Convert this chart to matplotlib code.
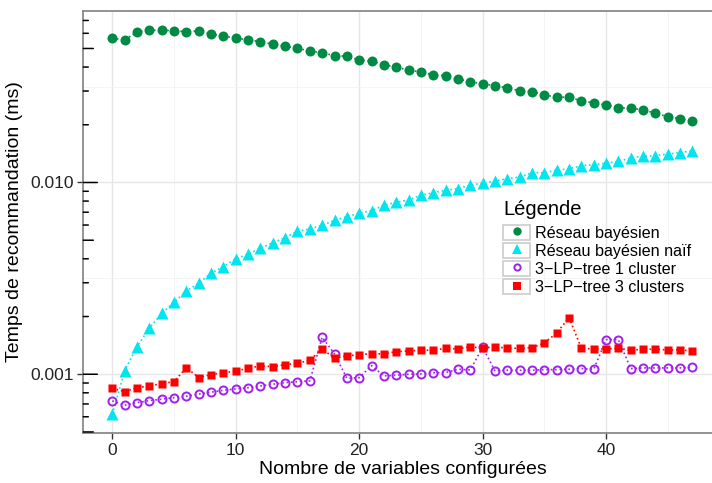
import numpy as np
import matplotlib
matplotlib.use("Agg")
import matplotlib.pyplot as plt
from matplotlib.lines import Line2D
from matplotlib.patches import Rectangle
from matplotlib.legend_handler import HandlerTuple

plt.rcParams['font.family'] = ['Liberation Sans', 'DejaVu Sans']

# nombre de variables configurees (0..47)
n_vars = list(range(48))

reseau_bayesien = [
    0.0565, 0.0554, 0.0610, 0.0622, 0.0622, 0.0619, 0.0612, 0.0617, 0.0595, 0.0579,
    0.0567, 0.0554, 0.0543, 0.0526, 0.0514, 0.0501, 0.0485, 0.0474, 0.0459, 0.0455,
    0.0436, 0.0429, 0.0412, 0.0399, 0.0386, 0.0376, 0.0365, 0.0360, 0.0346, 0.0336,
    0.0327, 0.0320, 0.0311, 0.0301, 0.0298, 0.0286, 0.0279, 0.0278, 0.0267, 0.0260,
    0.0254, 0.0246, 0.0244, 0.0239, 0.0230, 0.0220, 0.0215, 0.0209,
]
reseau_naif = [
    0.000618, 0.001044, 0.001393, 0.001737, 0.002080, 0.002374, 0.002718, 0.002981,
    0.003362, 0.003639, 0.004006, 0.004223, 0.004539, 0.004855, 0.005155, 0.005566,
    0.005722, 0.005981, 0.006353, 0.006633, 0.006910, 0.007129, 0.007605, 0.007885,
    0.008106, 0.008577, 0.008847, 0.009106, 0.009284, 0.009704, 0.009904, 0.01018,
    0.01047, 0.01068, 0.01125, 0.01125, 0.01158, 0.01180, 0.01223, 0.01238,
    0.01259, 0.01290, 0.01342, 0.01375, 0.01380, 0.01408, 0.01430, 0.01465,
]
lp_tree_1 = [
    0.000726, 0.000689, 0.000711, 0.000728, 0.000741, 0.000755, 0.000768, 0.000787,
    0.000806, 0.000825, 0.000838, 0.000851, 0.000869, 0.000887, 0.000904, 0.000915,
    0.000923, 0.001560, 0.001276, 0.000953, 0.000960, 0.001109, 0.000980, 0.000988,
    0.001000, 0.001004, 0.001019, 0.001019, 0.001062, 0.001053, 0.001383, 0.001040,
    0.001049, 0.001049, 0.001049, 0.001057, 0.001057, 0.001062, 0.001070, 0.001062,
    0.001515, 0.001515, 0.001070, 0.001079, 0.001079, 0.001079, 0.001079, 0.001088,
]
lp_tree_3 = [
    0.000845, 0.000811, 0.000851, 0.000869, 0.000893, 0.000915, 0.001082, 0.000960,
    0.000995, 0.001019, 0.001037, 0.001075, 0.001105, 0.001095, 0.001122, 0.001141,
    0.001183, 0.001355, 0.001212, 0.001246, 0.001265, 0.001280, 0.001276, 0.001312,
    0.001323, 0.001334, 0.001334, 0.001366, 0.001355, 0.001393, 0.001366, 0.001393,
    0.001366, 0.001366, 0.001376, 0.001456, 0.001642, 0.001973, 0.001366, 0.001355,
    0.001355, 0.001366, 0.001334, 0.001350, 0.001350, 0.001339, 0.001339, 0.001323,
]

labels = ["Réseau bayésien", "Réseau bayésien naïf",
          "3\u2212LP\u2212tree 1 cluster", "3\u2212LP\u2212tree 3 clusters"]

W, H = 712, 483
fig = plt.figure(figsize=(W / 100, H / 100), dpi=100)
ax = fig.add_axes([83.3 / W, (H - 433.3) / H, (721.5 - 83.3) / W, (433.3 - 10.7) / H])

ax.set_yscale('log')
ax.set_xlim(-2.35, 49.35)
ax.set_ylim(4.92e-4, 0.0787)

# grille facon ggplot
for xv in range(0, 50, 10):
    ax.axvline(xv, color='#e6e6e6', lw=1.0, zorder=0)
for xv in range(5, 50, 10):
    ax.axvline(xv, color='#f3f3f3', lw=0.6, zorder=0)
for yv in [1e-3, 1e-2]:
    ax.axhline(yv, color='#e6e6e6', lw=1.0, zorder=0)
for yv in [10 ** -2.5, 10 ** -1.5]:
    ax.axhline(yv, color='#f3f3f3', lw=0.6, zorder=0)

kw = dict(ls=':', lw=1.2, zorder=3)
ax.plot(n_vars, reseau_bayesien, color='#008B45', marker='o', ms=7.2, mec='none', **kw)
ax.plot(n_vars, reseau_naif, color='#00E5EE', marker='^', ms=8.5, mec='none', **kw)
ax.plot(n_vars, lp_tree_1, color='#A020F0', marker='o', ms=5.8, mfc='none', mew=1.4, **kw)
ax.plot(n_vars, lp_tree_3, color='#FF0000', marker='s', ms=6.3, mec='none', **kw)

# annotation_logticks a gauche
for dec in [-4, -3, -2, -1]:
    for m in range(1, 10):
        v = m * 10.0 ** dec
        if not (4.92e-4 <= v <= 0.0787):
            continue
        length = 14 if m == 1 else (10 if m == 5 else 5)
        ax.annotate('', xy=(0, v), xycoords=('axes fraction', 'data'),
                    xytext=(length, 0), textcoords='offset pixels',
                    arrowprops=dict(arrowstyle='-', color='black', lw=1.1,
                                    shrinkA=0, shrinkB=0))

ax.set_xticks([0, 10, 20, 30, 40])
ax.set_yticks([1e-3, 1e-2])
ax.set_yticklabels(['0.001', '0.010'])
ax.yaxis.set_minor_locator(matplotlib.ticker.NullLocator())
ax.tick_params(axis='both', which='major', direction='out', length=4, width=1,
               color='#333333', labelsize=12.5, labelcolor='#222222', pad=3)

for s in ax.spines.values():
    s.set_color('#8a8a8a')
    s.set_linewidth(1.3)

ax.set_xlabel("Nombre de variables configurées", fontsize=14, labelpad=2)
ax.set_ylabel("Temps de recommandation (ms)", fontsize=14, labelpad=5)

# legende avec cases grises
handles = []
for col, mk, ms, filled in [('#008B45', 'o', 6, True), ('#00E5EE', '^', 7.5, True),
                            ('#A020F0', 'o', 4.5, False), ('#FF0000', 's', 6, True)]:
    box = Rectangle((0, 0), 1, 1, facecolor='white', edgecolor='#cccccc', lw=1.2)
    mark = Line2D([], [], ls='none', marker=mk, ms=ms, color=col,
                  mfc=col if filled else 'none', mec=col if not filled else 'none', mew=1.4)
    handles.append((box, mark))

leg = ax.legend(handles, labels, title="Légende", loc='upper left',
                bbox_to_anchor=(492 / W, (H - 189) / H), bbox_transform=fig.transFigure,
                frameon=False, fontsize=11.6, title_fontsize=14.5,
                handler_map={tuple: HandlerTuple(ndivide=1)},
                handlelength=1.65, handleheight=1.1, handletextpad=0.3,
                labelspacing=0.12, borderpad=0.2)
leg._legend_box.align = 'left'
leg._legend_box.sep = 3.8

fig.savefig('out.png', dpi=100)
